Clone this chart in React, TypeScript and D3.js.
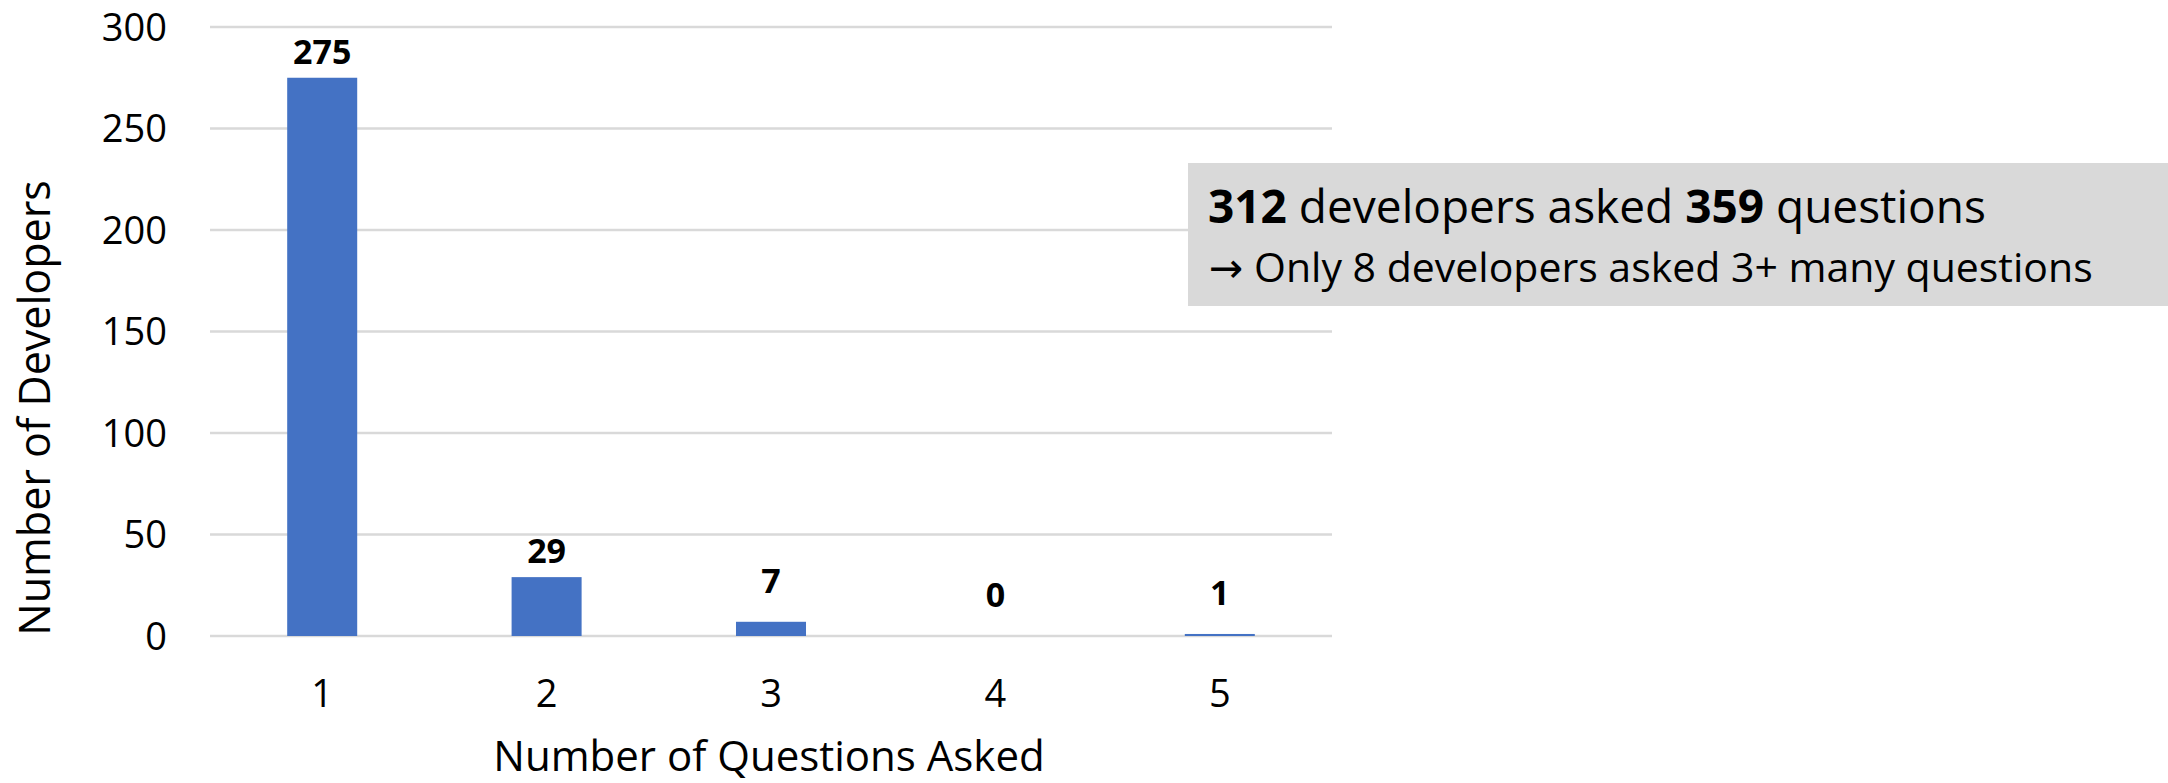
import React from 'react';
import * as d3 from 'd3';

const categories = ['1', '2', '3', '4', '5'];
const developers = [275, 29, 7, 0, 1];
const yTicks = [0, 50, 100, 150, 200, 250, 300];
const xTitle = 'Number of Questions Asked';
const yTitle = 'Number of Developers';
const noteTotals = { devs: '312', questions: '359' };
const noteLine2 = '\u2192 Only 8 developers asked 3+ many questions';

const W = 2168;
const H = 783;
const FONT = '"Open Sans", "DejaVu Sans", sans-serif';

const App: React.FC = () => {
  const x = d3
    .scaleBand<string>()
    .domain(categories)
    .range([210, 1332])
    .paddingInner(0.688)
    .paddingOuter(0.344);

  const y = d3.scaleLinear().domain([0, 300]).range([636, 27]);

  // labels for the tiny bars sit a bit higher, like the original
  const labelOffset = (v: number) => (v < 10 ? 29 : 14);

  return (
    <svg
      width={W}
      height={H}
      style={{ position: 'absolute', left: 0, top: 0, background: '#fff' }}
      fontFamily={FONT}
    >
      {/* grid */}
      {yTicks.map((t) => (
        <line
          key={'g' + t}
          x1={210}
          x2={1332}
          y1={y(t)}
          y2={y(t)}
          stroke="#d9d9d9"
          strokeWidth={2.5}
        />
      ))}

      {/* y tick labels */}
      {yTicks.map((t) => (
        <text key={'yt' + t} x={167} y={y(t) + 13.5} textAnchor="end" fontSize={38} fill="#000">
          {t}
        </text>
      ))}

      {/* bars */}
      {developers.map((v, i) => (
        <rect
          key={'b' + i}
          x={x(categories[i])}
          y={y(v)}
          width={x.bandwidth()}
          height={y(0) - y(v)}
          fill="#4472c4"
        />
      ))}

      {/* data labels */}
      {developers.map((v, i) => (
        <text
          key={'l' + i}
          x={(x(categories[i]) ?? 0) + x.bandwidth() / 2}
          y={y(v) - labelOffset(v)}
          textAnchor="middle"
          fontSize={34}
          fontWeight="bold"
          fill="#000"
        >
          {v}
        </text>
      ))}

      {/* x tick labels */}
      {categories.map((c) => (
        <text
          key={'xt' + c}
          x={(x(c) ?? 0) + x.bandwidth() / 2}
          y={707}
          textAnchor="middle"
          fontSize={38}
          fill="#000"
        >
          {c}
        </text>
      ))}

      {/* axis titles */}
      <text x={769} y={771} textAnchor="middle" fontSize={42} fill="#000">
        {xTitle}
      </text>
      <text
        transform="translate(50,408) rotate(-90)"
        textAnchor="middle"
        fontSize={43}
        fill="#000"
      >
        {yTitle}
      </text>

      {/* note box */}
      <rect x={1188} y={163} width={980} height={143} fill="#d9d9d9" />
      <text x={1208} y={223} fontSize={46} fill="#000">
        <tspan fontWeight="bold">{noteTotals.devs}</tspan>
        <tspan> developers asked </tspan>
        <tspan fontWeight="bold">{noteTotals.questions}</tspan>
        <tspan> questions</tspan>
      </text>
      <text x={1209} y={282} fontSize={41} fill="#000">
        {noteLine2}
      </text>
    </svg>
  );
};

export default App;
